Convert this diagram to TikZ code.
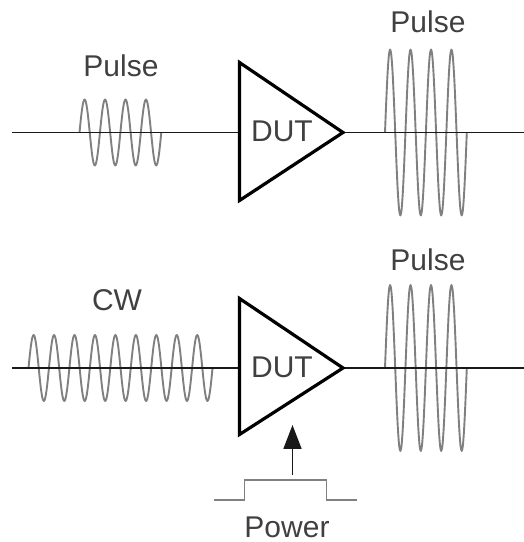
\documentclass[tikz,border=0pt]{standalone}
\usepackage{fontspec}
\setmainfont{Liberation Sans}
\usetikzlibrary{arrows.meta}
\definecolor{wavegrey}{HTML}{808080}
\definecolor{textgrey}{HTML}{404040}
\tikzset{
  wave/.style={draw=wavegrey,line width=1.9pt,line join=round},
  signal/.style={draw=black!90,line width=1.8pt},
  dut/.style={draw=black,line width=3.2pt,line join=miter,miter limit=4},
  label/.style={inner sep=0pt,anchor=base,text=textgrey,font=\fontsize{30}{30}\selectfont},
}
\newcommand{\sinewave}[4]{% x0, yc, amp, periods
  \pgfmathsetmacro{\wavelen}{#4*20.45}
  \pgfmathtruncatemacro{\wavesamples}{#4*16+1}
  \draw[wave] plot[smooth,samples=\wavesamples,domain=0:\wavelen] ({#1+\x},{#2+#3*sin(17.604*\x)});
}
\begin{document}
\begin{tikzpicture}[x=1pt,y=1pt]
\useasboundingbox (0,0) rectangle (524,542);
% waves (under the signal lines)
\sinewave{79.5}{409.5}{33}{4}
\sinewave{385}{409.5}{83}{4}
\sinewave{28.5}{174}{33}{9}
\sinewave{385}{174}{83}{4}
% top row
\coordinate (in1) at (12,409.5);
\coordinate (out1) at (524,409.5);
\coordinate (t1a) at (239.5,479.5);
\coordinate (t1b) at (239.5,341.5);
\coordinate (t1c) at (343,409.5);
\coordinate (t1i) at (239.5,409.5);
\draw[signal] (in1) -- (t1i);
\draw[signal] (t1c) -- (out1);
\draw[dut] (t1a) -- (t1c) -- (t1b) -- cycle;
\node[label] (dut1) at (282,400) {DUT};
\node[label] (p1) at (121,465) {Pulse};
\node[label] (p2) at (428,509) {Pulse};
% bottom row
\coordinate (in2) at (12,174);
\coordinate (out2) at (524,174);
\coordinate (t2a) at (239.5,243.5);
\coordinate (t2b) at (239.5,107.5);
\coordinate (t2c) at (343,174);
\coordinate (t2i) at (239.5,174);
\draw[signal] (in2) -- (t2i);
\draw[signal] (t2c) -- (out2);
\draw[dut] (t2a) -- (t2c) -- (t2b) -- cycle;
\node[label] (dut2) at (282,164) {DUT};
\node[label] (cw) at (117,231) {CW};
\node[label] (p3) at (428,271) {Pulse};
% power
\coordinate (ps) at (213.5,42);
\coordinate (pe) at (356.5,42);
\draw[draw=wavegrey,line width=1.7pt] (ps) -- (244.5,42) -- (244.5,62) -- (326.5,62) -- (326.5,42) -- (pe);
\coordinate (af) at (292.5,67);
\coordinate (at) at (292.5,117);
\draw[signal,-{Triangle[length=24pt,width=18pt]}] (af) -- (at);
\node[label] (pw) at (287,5) {Power};
\end{tikzpicture}
\end{document}
